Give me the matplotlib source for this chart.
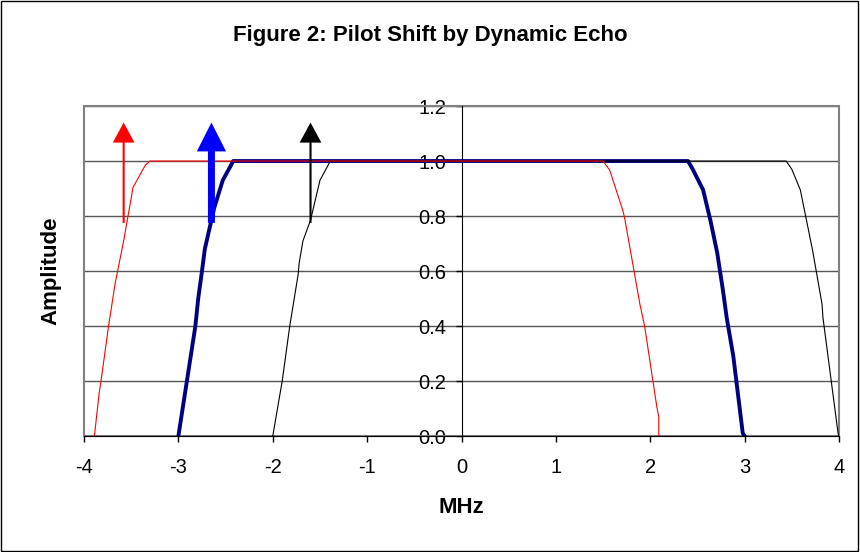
import matplotlib
matplotlib.use('Agg')
from matplotlib import pyplot as plt
from matplotlib.patches import Rectangle

plt.rcParams['font.family'] = ['Liberation Sans', 'DejaVu Sans']
plt.rcParams['axes.unicode_minus'] = False

# echo-shifted spectra (MHz, amplitude)
red_x = [-3.89, -3.84, -3.82, -3.74, -3.67, -3.58, -3.48, -3.35, -3.30,
         1.50, 1.57, 1.71, 1.73, 1.89, 1.94, 2.07, 2.09, 2.09]
red_y = [0.0, 0.155, 0.2, 0.4, 0.555, 0.71, 0.905, 0.985, 1.0,
         1.0, 0.967, 0.82, 0.79, 0.48, 0.40, 0.105, 0.07, 0.0]

blue_x = [-3.0, -2.91, -2.82, -2.79, -2.75, -2.72, -2.62, -2.53, -2.45, -2.42,
          2.40, 2.45, 2.56, 2.64, 2.71, 2.77, 2.81, 2.88, 2.98, 3.0]
blue_y = [0.0, 0.2, 0.4, 0.5, 0.6, 0.68, 0.83, 0.93, 0.98, 1.0,
          1.0, 0.97, 0.895, 0.78, 0.665, 0.53, 0.43, 0.29, 0.01, 0.0]

black_x = [-2.0, -1.90, -1.82, -1.73, -1.72, -1.68, -1.60, -1.50, -1.39,
           3.44, 3.50, 3.59, 3.72, 3.82, 3.83, 3.99, 4.0]
black_y = [0.0, 0.2, 0.4, 0.59, 0.63, 0.71, 0.785, 0.93, 1.0,
           1.0, 0.97, 0.895, 0.675, 0.48, 0.43, 0.01, 0.0]

# pilot arrows: position, colour
arrow_x = [-3.58, -2.65, -1.60]
arrow_colors = ['#FF0000', '#0000FF', '#000000']
arrow_base, arrow_tip = 0.775, 1.14

yticks = [0, 0.2, 0.4, 0.6, 0.8, 1.0, 1.2]

fig = plt.figure(figsize=(8.6, 5.52), dpi=100)
ax = fig.add_axes([0.0977, 0.2101, 0.8779, 0.5978])

ax.plot(blue_x, blue_y, color='#000080', lw=2.8, zorder=3)
ax.plot(red_x, red_y, color='#FF0000', lw=0.8, zorder=4)
ax.plot(black_x, black_y, color='#000000', lw=0.8, zorder=3)

for x, c in zip(arrow_x, arrow_colors):
    if c == '#0000FF':
        w, hw, hl = 0.074, 0.31, 0.105
    else:
        w, hw, hl = 0.022, 0.23, 0.073
    ax.arrow(x, arrow_base, 0, arrow_tip - arrow_base, width=w, head_width=hw,
             head_length=hl, length_includes_head=True, color=c, lw=0, zorder=6)

ax.set_xlim(-4, 4)
ax.set_ylim(0, 1.2)
ax.set_xticks(range(-4, 5))
ax.set_yticks(yticks)
ax.set_yticklabels(['%.1f' % v for v in yticks])
ax.grid(axis='y', color='#555555', lw=1)
ax.set_axisbelow(True)

ax.spines['left'].set_position(('data', 0))
ax.spines['left'].set_color('black')
ax.spines['right'].set_visible(False)
ax.spines['top'].set_visible(False)
ax.spines['bottom'].set_color('black')
ax.add_patch(Rectangle((0, 0), 1, 1, transform=ax.transAxes, fill=False,
                       edgecolor='#808080', lw=1.5, zorder=1, clip_on=False))
ax.tick_params(axis='both', direction='out', length=4, width=1, labelsize=14.5, colors='black')
ax.tick_params(axis='x', pad=12)
ax.tick_params(axis='y', pad=7)

fig.text(0.5, 0.935, 'Figure 2: Pilot Shift by Dynamic Echo', ha='center', va='center',
         fontsize=16, fontweight='bold')
fig.text(0.059, 0.509, 'Amplitude', rotation=90, ha='center', va='center',
         fontsize=16, fontweight='bold')
fig.text(0.5366, 0.08, 'MHz', ha='center', va='center', fontsize=16, fontweight='bold')
fig.add_artist(Rectangle((0.001, 0.002), 0.997, 0.996, transform=fig.transFigure,
                         fill=False, edgecolor='black', lw=1))

plt.savefig('out.png', dpi=100)
